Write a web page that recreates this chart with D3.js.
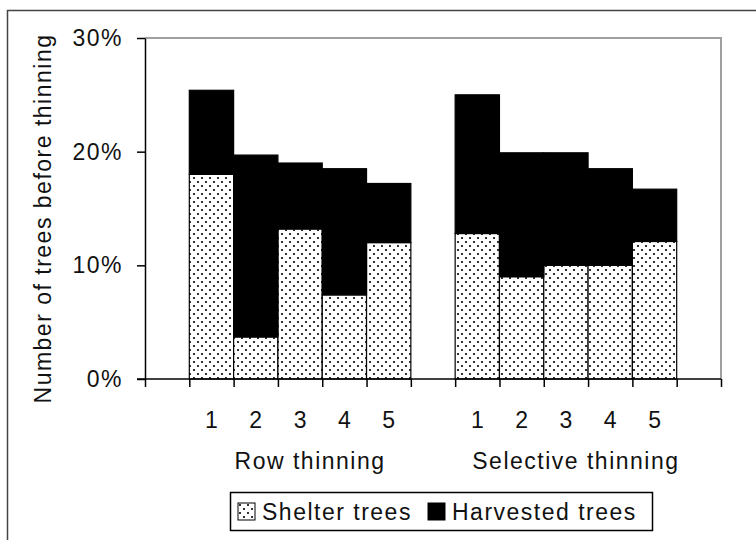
<!DOCTYPE html>
<html>
<head>
<meta charset="utf-8">
<script src="https://cdn.jsdelivr.net/npm/d3@7"></script>
<style>
  body { margin: 0; background: #fff; }
  text { font-family: "Liberation Sans Narrow", "Arial Narrow", "Liberation Sans", Arial, sans-serif; fill: #111; }
</style>
</head>
<body>
<div id="chart"></div>
<script>
// values (fraction of trees before thinning)
var groups = ["Row thinning", "Selective thinning"];
var plots = ["1", "2", "3", "4", "5"];
var shelterRow = [0.180, 0.037, 0.132, 0.074, 0.120];
var harvestedRow = [0.074, 0.160, 0.058, 0.111, 0.052];
var shelterSel = [0.128, 0.090, 0.100, 0.100, 0.121];
var harvestedSel = [0.122, 0.109, 0.099, 0.085, 0.046];
var yTicks = [0, 0.1, 0.2, 0.3];
var legendLabels = ["Shelter trees", "Harvested trees"];

var width = 756, height = 540;
var margin = {top: 38, left: 145, right: 35, bottom: 161};

var svg = d3.select("#chart").append("svg")
  .attr("width", width)
  .attr("height", height);

var defs = svg.append("defs");
var pat = defs.append("pattern").attr("id", "dots")
  .attr("patternUnits", "userSpaceOnUse")
  .attr("width", 8).attr("height", 8);
pat.append("rect").attr("width", 8).attr("height", 8).attr("fill", "#fff");
pat.append("rect").attr("x", 1).attr("y", 1).attr("width", 2).attr("height", 2).attr("fill", "#333");
pat.append("rect").attr("x", 5).attr("y", 5).attr("width", 2).attr("height", 2).attr("fill", "#333");

// outer frame (runs off the right and bottom of the picture)
svg.append("path")
  .attr("d", "M7.5,540V10.5H756")
  .attr("fill", "none")
  .attr("stroke", "#444")
  .attr("stroke-width", 1.5);

// 13 slots: gap, 5 plots, gap, 5 plots, gap
var slots = d3.range(13);
var x = d3.scaleBand()
  .domain(slots)
  .range([margin.left, width - margin.right])
  .paddingInner(0).paddingOuter(0);

var y = d3.scaleLinear()
  .domain([0, 0.3])
  .range([height - margin.bottom - 0, margin.top]);

var y0 = y(0);

// plot area border (grey top and right)
svg.append("path")
  .attr("d", "M" + x.range()[0] + "," + y(0.3) + "H" + x.range()[1] + "V" + y0)
  .attr("fill", "none")
  .attr("stroke", "#a0a0a0")
  .attr("stroke-width", 2);

var rows = [];
groups.forEach(function(g, gi) {
  var sh = gi === 0 ? shelterRow : shelterSel;
  var hv = gi === 0 ? harvestedRow : harvestedSel;
  plots.forEach(function(p, i) {
    rows.push({group: g, gi: gi, plot: p, slot: 1 + gi * 6 + i, shelter: sh[i], harvested: hv[i]});
  });
});

var bars = svg.append("g");
bars.selectAll(".shelter")
  .data(rows)
  .enter().append("rect")
  .attr("class", "shelter")
  .attr("x", function(d) { return x(d.slot); })
  .attr("width", x.bandwidth())
  .attr("y", function(d) { return y(d.shelter); })
  .attr("height", function(d) { return y0 - y(d.shelter); })
  .attr("fill", "url(#dots)")
  .attr("stroke", "#000")
  .attr("stroke-width", 1.2);

bars.selectAll(".harvested")
  .data(rows)
  .enter().append("rect")
  .attr("class", "harvested")
  .attr("x", function(d) { return x(d.slot); })
  .attr("width", x.bandwidth())
  .attr("y", function(d) { return y(d.shelter + d.harvested); })
  .attr("height", function(d) { return y(d.shelter) - y(d.shelter + d.harvested); })
  .attr("fill", "#000")
  .attr("stroke", "#000")
  .attr("stroke-width", 1.2);

// y axis
var yAxis = d3.axisLeft(y)
  .tickValues(yTicks)
  .tickFormat(d3.format(".0%"))
  .tickSizeInner(8)
  .tickSizeOuter(0)
  .tickPadding(14);
var gy = svg.append("g")
  .attr("transform", "translate(" + margin.left + ",0)")
  .call(yAxis);
gy.select(".domain").attr("stroke", "#000").attr("stroke-width", 1.5);
gy.selectAll(".tick line").attr("stroke", "#000").attr("stroke-width", 1.5);
gy.selectAll("text").style("font-size", "23px").style("letter-spacing", "1.5px").attr("fill", "#111");

// x axis: boundary ticks between slots
var bounds = d3.scaleLinear().domain([0, 13]).range(x.range());
var xAxis = d3.axisBottom(bounds)
  .tickValues(d3.range(14))
  .tickFormat("")
  .tickSizeInner(8)
  .tickSizeOuter(0);
var gx = svg.append("g")
  .attr("transform", "translate(0," + y0 + ")")
  .call(xAxis);
gx.select(".domain").attr("stroke", "#000").attr("stroke-width", 1.5)
  .attr("d", "M" + (margin.left - 8) + ",0H" + x.range()[1]);
gx.selectAll(".tick line").attr("stroke", "#000").attr("stroke-width", 1.5);

// plot numbers
svg.append("g").selectAll("text")
  .data(rows)
  .enter().append("text")
  .attr("x", function(d) { return x(d.slot) + x.bandwidth() / 2; })
  .attr("y", y0 + 49)
  .attr("text-anchor", "middle")
  .style("font-size", "23px")
  .text(function(d) { return d.plot; });

// group labels
svg.append("g").selectAll("text")
  .data(groups)
  .enter().append("text")
  .attr("x", function(g, gi) { return (x(1 + gi * 6) + x(5 + gi * 6) + x.bandwidth()) / 2 + 10; })
  .attr("y", y0 + 90)
  .attr("text-anchor", "middle")
  .style("font-size", "23px")
  .style("letter-spacing", "1.5px")
  .text(function(g) { return g; });

// y title
svg.append("text")
  .attr("transform", "translate(51," + ((y(0.3) + y0) / 2 + 10) + ") rotate(-90)")
  .attr("text-anchor", "middle")
  .style("font-size", "23px")
  .style("letter-spacing", "1.5px")
  .text("Number of trees before thinning");

// legend
var lg = svg.append("g");
lg.append("rect")
  .attr("x", 230.5).attr("y", 492.5)
  .attr("width", 422).attr("height", 38)
  .attr("fill", "#fff")
  .attr("stroke", "#000")
  .attr("stroke-width", 1.5);
var items = lg.selectAll(".item")
  .data(legendLabels)
  .enter().append("g")
  .attr("class", "item")
  .attr("transform", function(d, i) { return "translate(" + (i === 0 ? 238 : 428) + ",503)"; });
items.append("rect")
  .attr("width", 17).attr("height", 17)
  .attr("fill", function(d, i) { return i === 0 ? "url(#dots)" : "#000"; })
  .attr("stroke", "#000")
  .attr("stroke-width", 1);
items.append("text")
  .attr("x", 24)
  .attr("y", 17)
  .style("font-size", "23px")
  .style("letter-spacing", "1.5px")
  .text(function(d) { return d; });
</script>
</body>
</html>
